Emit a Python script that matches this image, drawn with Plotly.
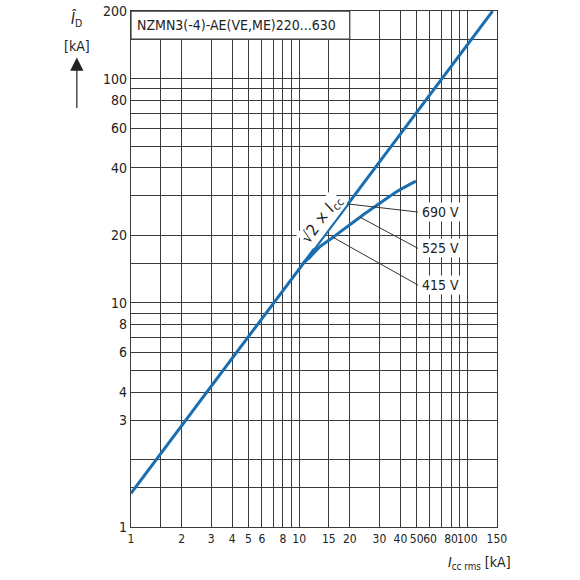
import math
import plotly.graph_objects as go

# axis grid / tick values
x_grid = [1, 1.5, 2, 3, 4, 5, 6, 7, 8, 9, 10, 15, 20, 30, 40, 50, 60, 70, 80, 90, 100, 150]
x_labels = ["1", "", "2", "3", "4", "5", "6", "", "8", "", "10", "15", "20", "30", "40",
            "50", "60", "", "80", "", "100", "150"]
y_grid = [1, 1.5, 2, 3, 4, 5, 6, 7, 8, 9, 10, 15, 20, 30, 40, 50, 60, 70, 80, 90, 100, 150, 200]
y_labels = ["1", "", "", "3", "4", "", "6", "", "8", "", "10", "", "20", "", "40", "",
            "60", "", "80", "", "100", "", "200"]

# peak current curves
peak_x = [1, 141.4]
peak_y = [1.414, 200]
limit_x = [10.5, 11.6, 13.3, 15.9, 23.0, 30.2, 38.0, 49.5]
limit_y = [15.0, 16.0, 17.8, 19.6, 24.1, 27.8, 31.3, 34.9]

# voltage labels and their pointer lines
volt_labels = ["690 V", "525 V", "415 V"]
pointer_x0 = [19.6, 23.0, 15.9]
pointer_y0 = [27.6, 24.1, 19.6]
pointer_x1 = [50.9, 50.9, 50.9]
pointer_y1 = [25.4, 17.5, 12.0]

BLUE = "#1a6eb0"
GRID = "#3a3a3a"
INK = "#222222"
FONT = "DejaVu Sans Condensed, Roboto, sans-serif"

fig = go.Figure()

fig.add_trace(go.Scatter(x=peak_x, y=peak_y, mode="lines",
                         line=dict(color=BLUE, width=3), hoverinfo="skip"))
fig.add_trace(go.Scatter(x=limit_x, y=limit_y, mode="lines",
                         line=dict(color=BLUE, width=3, shape="spline", smoothing=0.8),
                         hoverinfo="skip"))

for x0, y0, x1, y1 in zip(pointer_x0, pointer_y0, pointer_x1, pointer_y1):
    fig.add_trace(go.Scatter(x=[x0, x1], y=[y0, y1], mode="lines",
                             line=dict(color="#333333", width=1), hoverinfo="skip"))

annotations = []
for txt, y1 in zip(volt_labels, pointer_y1):
    annotations.append(dict(x=math.log10(52.5), y=math.log10(y1), xref="x", yref="y",
                            text=txt, showarrow=False, xanchor="left", yanchor="middle",
                            bgcolor="white", borderpad=1,
                            font=dict(size=14, color=INK, family=FONT)))

# label along the peak line
annotations.append(dict(x=math.log10(13.6), y=math.log10(23.6), xref="x", yref="y",
                        text="√2 × <i>I</i><sub>cc</sub>", showarrow=False, textangle=-53,
                        bgcolor="white", borderpad=0,
                        font=dict(size=16, color=INK, family=FONT)))

# title inside the box
annotations.append(dict(x=0.012, y=math.log10(174), xref="paper", yref="y",
                        text="NZMN3(-4)-AE(VE,ME)220...630", showarrow=False,
                        xanchor="left", yanchor="middle",
                        font=dict(size=14, color=INK, family=FONT)))

# y axis title
annotations.append(dict(x=-0.148, y=0.985, xref="paper", yref="paper",
                        text="<i>Î</i><sub>D</sub>", showarrow=False,
                        xanchor="center", yanchor="middle",
                        font=dict(size=15, color=INK, family=FONT)))
annotations.append(dict(x=-0.148, y=0.932, xref="paper", yref="paper",
                        text="[kA]", showarrow=False, xanchor="center", yanchor="middle",
                        font=dict(size=14, color=INK, family=FONT)))
annotations.append(dict(x=-0.148, y=0.91, xref="paper", yref="paper", ax=0, ay=52,
                        text="", showarrow=True, arrowhead=2, arrowsize=2.2,
                        arrowwidth=1.2, arrowcolor=INK))

# x axis title
annotations.append(dict(x=1.045, y=-0.07, xref="paper", yref="paper",
                        text="<i>I</i><sub>cc rms</sub> [kA]", showarrow=False,
                        xanchor="right", yanchor="middle",
                        font=dict(size=14, color=INK, family=FONT)))

fig.update_layout(
    width=580, height=580,
    margin=dict(l=131, r=83, t=11, b=53),
    paper_bgcolor="white", plot_bgcolor="white",
    showlegend=False,
    font=dict(family=FONT, size=14, color=INK),
    annotations=annotations,
    shapes=[dict(type="rect", xref="x", yref="y", x0=1, x1=20, y0=150, y1=200,
                 fillcolor="white", line=dict(color=GRID, width=1.2), layer="between")],
)

fig.update_xaxes(type="log", range=[0, math.log10(150.2)], automargin=False,
                 tickmode="array", tickvals=x_grid, ticktext=x_labels,
                 showgrid=True, gridcolor=GRID, gridwidth=1.2,
                 showline=True, linecolor=GRID, linewidth=1.2, mirror=True,
                 ticks="", zeroline=False, tickangle=0,
                 tickfont=dict(size=12, color=INK))
fig.update_yaxes(type="log", range=[0, math.log10(200.3)], automargin=False,
                 tickmode="array", tickvals=y_grid, ticktext=y_labels,
                 showgrid=True, gridcolor=GRID, gridwidth=1.2,
                 showline=True, linecolor=GRID, linewidth=1.2, mirror=True,
                 ticks="", zeroline=False,
                 tickfont=dict(size=14, color=INK))

# drop the default page margin so the figure sits at the window's top-left corner
fig.write_html("out.html", config={"displayModeBar": False},
               post_script="document.body.style.margin='0';")
